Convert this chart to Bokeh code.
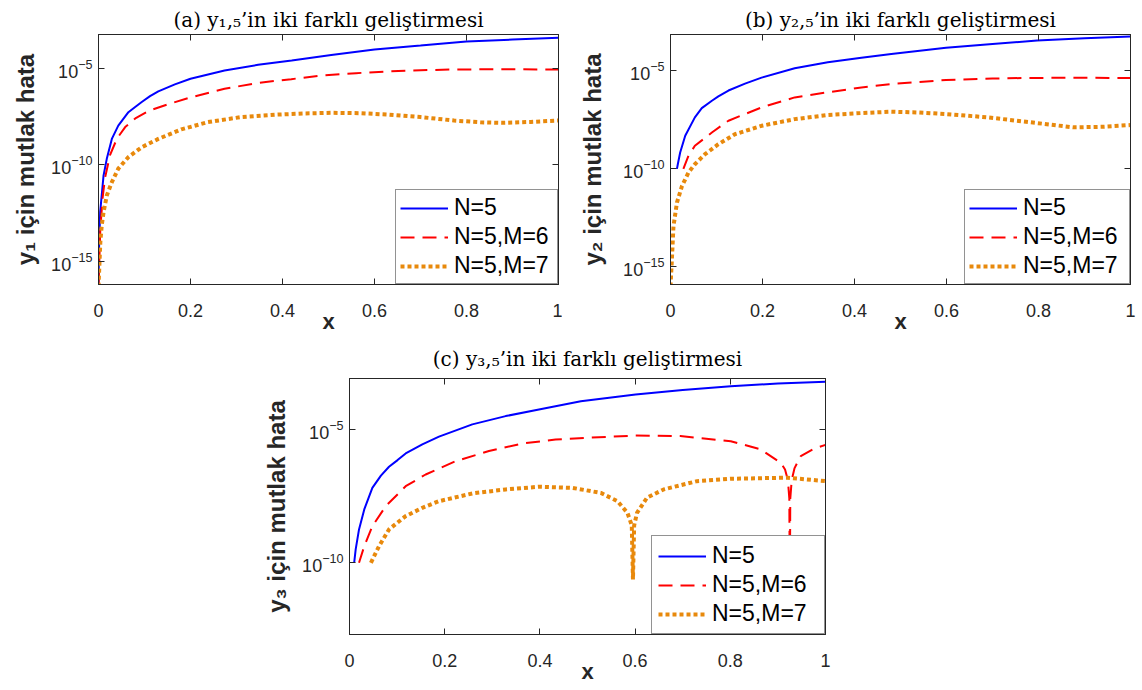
from bokeh.plotting import figure
from bokeh.models import (Range1d, FixedTicker, CustomJSTickFormatter, LinearAxis,
                          LogAxis, LogTickFormatter, Legend, LegendItem, Spacer, Title)
from bokeh.layouts import row, column
from bokeh.embed import file_html
from bokeh.resources import INLINE

# ---------------- data ----------------
x_ticks = [0, 0.2, 0.4, 0.6, 0.8, 1]
x_tick_labels = ["0", "0.2", "0.4", "0.6", "0.8", "1"]
y_ticks_ab = [1e-15, 1e-10, 1e-5]
y_ticks_c = [1e-10, 1e-5]
series_names = ["N=5", "N=5,M=6", "N=5,M=7"]

titles = ["(a) y\u2081,\u2085\u2019in iki farkl\u0131 geli\u015ftirmesi",
          "(b) y\u2082,\u2085\u2019in iki farkl\u0131 geli\u015ftirmesi",
          "(c) y\u2083,\u2085\u2019in iki farkl\u0131 geli\u015ftirmesi"]
ylabels = ["y\u2081 i\u00e7in mutlak hata",
           "y\u2082 i\u00e7in mutlak hata",
           "y\u2083 i\u00e7in mutlak hata"]
xlabel = "x"

# y-range (log10 limits) of each panel
ylim_a = [-16.19, -3.26]
ylim_b = [-15.9, -3.14]
ylim_c = [-12.69, -3.09]

# panel (a): x positions and log10(|error|)
a_n5_x = [0.0, 0.001, 0.0036, 0.011, 0.018, 0.029, 0.043, 0.065, 0.079, 0.094, 0.112, 0.13,
          0.166, 0.2, 0.274, 0.347, 0.42, 0.506, 0.6, 0.7, 0.8, 0.9, 1.0]
a_n5_log = [-16.3, -14.5, -12.45, -10.55, -9.69, -8.66, -7.97, -7.28, -7.02, -6.75, -6.45,
            -6.2, -5.84, -5.55, -5.12, -4.83, -4.60, -4.32, -4.03, -3.83, -3.62, -3.52, -3.43]
a_m6_x = [0.0, 0.004, 0.009, 0.014, 0.025, 0.04, 0.058, 0.08, 0.11, 0.152, 0.202, 0.274,
          0.347, 0.419, 0.484, 0.56, 0.628, 0.7, 0.773, 0.85, 0.92, 1.0]
a_m6_log = [-16.3, -13.3, -11.7, -10.7, -9.5, -8.65, -8.05, -7.6, -7.2, -6.86, -6.5, -6.07,
            -5.76, -5.57, -5.38, -5.26, -5.17, -5.11, -5.07, -5.06, -5.06, -5.07]
a_m7_x = [0.0, 0.004, 0.007, 0.011, 0.018, 0.029, 0.043, 0.065, 0.094, 0.13, 0.18, 0.238,
          0.31, 0.383, 0.45, 0.506, 0.57, 0.628, 0.7, 0.773, 0.83, 0.88, 0.94, 1.0]
a_m7_log = [-16.3, -14.0, -13.14, -12.45, -11.59, -10.9, -10.2, -9.6, -9.09, -8.66, -8.17,
            -7.79, -7.53, -7.41, -7.34, -7.31, -7.33, -7.40, -7.53, -7.71, -7.80, -7.83,
            -7.78, -7.71]

# panel (b)
b_n5_x = [0.014, 0.016, 0.021, 0.032, 0.053, 0.068, 0.09, 0.104, 0.126, 0.162, 0.198, 0.27,
          0.342, 0.415, 0.48, 0.599, 0.7, 0.797, 0.9, 1.0]
b_n5_log = [-10.0, -9.75, -9.16, -8.31, -7.37, -6.9, -6.52, -6.3, -6.0, -5.65, -5.34, -4.86,
            -4.56, -4.33, -4.13, -3.82, -3.62, -3.45, -3.33, -3.24]
b_m6_x = [0.028, 0.039, 0.053, 0.09, 0.126, 0.198, 0.27, 0.342, 0.415, 0.48, 0.599, 0.7,
          0.769, 0.85, 0.92, 1.0]
b_m6_log = [-10.0, -9.33, -8.82, -8.14, -7.54, -6.86, -6.35, -6.09, -5.84, -5.67, -5.46,
            -5.39, -5.36, -5.35, -5.35, -5.36]
b_m7_x = [0.0, 0.003, 0.0065, 0.014, 0.025, 0.039, 0.053, 0.075, 0.104, 0.14, 0.198, 0.27,
          0.342, 0.415, 0.48, 0.54, 0.599, 0.69, 0.797, 0.876, 0.94, 1.0]
b_m7_log = [-16.0, -14.62, -12.92, -11.72, -10.87, -10.19, -9.76, -9.25, -8.74, -8.23, -7.8,
            -7.46, -7.25, -7.15, -7.08, -7.12, -7.2, -7.37, -7.66, -7.88, -7.85, -7.76]

# panel (c)
c_n5_x = [0.0098, 0.013, 0.02, 0.031, 0.048, 0.066, 0.083, 0.101, 0.118, 0.153, 0.188,
          0.258, 0.328, 0.398, 0.486, 0.601, 0.7, 0.801, 0.9, 1.0]
c_n5_log = [-10.0, -9.5, -8.75, -8.0, -7.19, -6.73, -6.4, -6.15, -5.9, -5.56, -5.27,
            -4.81, -4.5, -4.25, -3.94, -3.69, -3.52, -3.38, -3.28, -3.21]
c_m6_x = [0.02, 0.031, 0.048, 0.076, 0.118, 0.16, 0.223, 0.293, 0.363, 0.433, 0.503, 0.601,
          0.695, 0.801, 0.864, 0.906, 0.915, 0.921, 0.924, 0.925, 0.926, 0.929, 0.935,
          0.948, 0.976, 1.0]
c_m6_log = [-10.0, -9.38, -8.63, -7.88, -7.13, -6.69, -6.19, -5.81, -5.53, -5.38, -5.31,
            -5.23, -5.25, -5.44, -5.75, -6.25, -6.5, -6.9, -7.6, -11.5, -7.6, -6.9, -6.45,
            -6.0, -5.72, -5.58]
c_m7_x = [0.045, 0.062, 0.083, 0.118, 0.153, 0.188, 0.258, 0.328, 0.398, 0.468, 0.528,
          0.563, 0.584, 0.593, 0.5955, 0.598, 0.604, 0.625, 0.66, 0.73, 0.801, 0.92, 1.0]
c_m7_log = [-10.0, -9.38, -8.75, -8.25, -7.94, -7.69, -7.4, -7.25, -7.15, -7.19, -7.38,
            -7.69, -8.13, -8.6, -10.63, -8.6, -8.13, -7.56, -7.25, -6.94, -6.85, -6.81, -6.94]

# ---------------- styling ----------------
AX = "#262626"
styles = [dict(line_color="#0000FF", line_width=2),
          dict(line_color="#FF0000", line_width=2, line_dash="14 8"),
          dict(line_color="#E8890C", line_width=4, line_dash="4 3", line_cap="butt")]


def style_axis(ax, size="18px"):
    ax.axis_line_color = AX
    ax.axis_line_width = 1
    ax.major_tick_line_color = AX
    ax.major_tick_in = 6
    ax.major_tick_out = 0
    ax.minor_tick_line_color = None
    ax.major_label_text_font = "Liberation Sans"
    ax.major_label_text_font_size = size
    ax.major_label_text_color = AX


def panel(title, ylabel, series, ylim, yticks, width, height, bl, br, bt, bb,
          title_standoff, ylabel_offset, ylabel_standoff, leg_padding, leg_label_width):
    p = figure(width=width, height=height, y_axis_type="log",
               x_range=Range1d(0, 1), y_range=Range1d(10 ** ylim[0], 10 ** ylim[1]),
               output_backend="svg", toolbar_location=None,
               min_border_left=bl, min_border_right=br,
               min_border_top=bt, min_border_bottom=bb)
    p.background_fill_color = "white"
    p.border_fill_color = "white"
    p.outline_line_color = AX
    p.grid.visible = False

    p.title.text = title
    p.title.align = "center"
    p.title.text_font = "DejaVu Serif"
    p.title.text_font_size = "20px"
    p.title.text_font_style = "normal"
    p.title.text_color = "#000000"
    p.title.standoff = title_standoff

    renderers = []
    for (xs, ls), st in zip(series, styles):
        ys = [10.0 ** v for v in ls]
        renderers.append(p.line(xs, ys, **st))

    xa = p.xaxis[0]
    xa.ticker = FixedTicker(ticks=x_ticks, minor_ticks=[])
    xa.major_label_overrides = {t: l for t, l in zip(x_ticks, x_tick_labels)}
    style_axis(xa)
    xa.major_label_standoff = 19
    xa.axis_label = xlabel
    xa.axis_label_text_font = "Liberation Sans"
    xa.axis_label_text_font_size = "22px"
    xa.axis_label_text_font_style = "bold"
    xa.axis_label_text_color = AX
    xa.axis_label_standoff = -11

    ya = p.yaxis[0]
    ya.ticker = FixedTicker(ticks=yticks, minor_ticks=[])
    ya.formatter = LogTickFormatter()
    style_axis(ya)
    ya.major_label_standoff = 6

    # y-axis label as a left-side title so that it can be shifted along the axis
    ylab = Title(text=ylabel, align="center", offset=ylabel_offset, standoff=ylabel_standoff,
                 text_font="Liberation Sans", text_font_size="24px",
                 text_font_style="bold", text_color=AX)
    p.add_layout(ylab, "left")

    top = LinearAxis(ticker=FixedTicker(ticks=x_ticks, minor_ticks=[]),
                     formatter=CustomJSTickFormatter(code="return ''"),
                     major_label_standoff=0)
    style_axis(top, "1px")
    p.add_layout(top, "above")
    right = LogAxis(ticker=FixedTicker(ticks=yticks, minor_ticks=[]),
                    formatter=CustomJSTickFormatter(code="return ''"),
                    major_label_standoff=0)
    style_axis(right, "1px")
    p.add_layout(right, "right")

    legend = Legend(items=[LegendItem(label=n, renderers=[r])
                           for n, r in zip(series_names, renderers)],
                    location="bottom_right", margin=0, padding=leg_padding, spacing=2,
                    glyph_width=48, glyph_height=24, label_height=24, label_standoff=6,
                    label_width=leg_label_width,
                    label_text_font="Liberation Sans", label_text_font_size="23px",
                    label_text_color="#000000", border_line_color=AX,
                    border_line_width=1, background_fill_color="white",
                    background_fill_alpha=1.0)
    p.add_layout(legend)
    return p


p1 = panel(titles[0], ylabels[0],
           [(a_n5_x, a_n5_log), (a_m6_x, a_m6_log), (a_m7_x, a_m7_log)],
           ylim_a, y_ticks_ab, 562, 336, 97, 4, 34, 52, 6, -16, 19, 4, 99)
p2 = panel(titles[1], ylabels[1],
           [(b_n5_x, b_n5_log), (b_m6_x, b_m6_log), (b_m7_x, b_m7_log)],
           ylim_b, y_ticks_ab, 574, 336, 107, 6, 34, 52, 6, -13, 29, 4, 102)
p3 = panel(titles[2], ylabels[2],
           [(c_n5_x, c_n5_log), (c_m6_x, c_m6_log), (c_m7_x, c_m7_log)],
           ylim_c, y_ticks_c, 584, 350, 97, 10, 42, 52, 15, -5, 19, 6, 106)

layout = column(row(p1, p2), row(Spacer(width=251, height=10), p3))

open("out.html", "w").write(file_html(layout, INLINE))
